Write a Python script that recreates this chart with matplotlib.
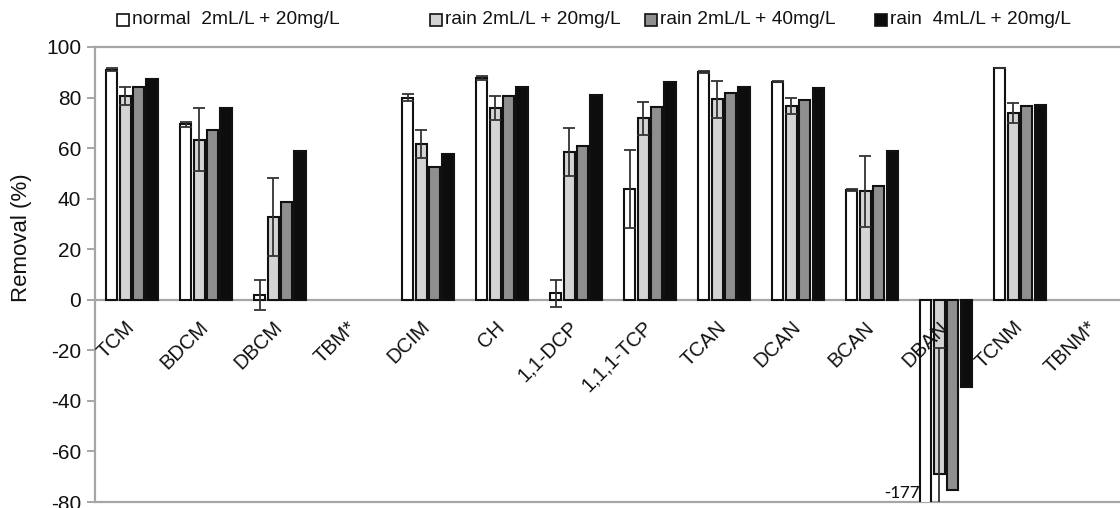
import numpy as np
import matplotlib
matplotlib.use("Agg")
import matplotlib.pyplot as plt
from matplotlib.patches import Rectangle

# data
categories = ['TCM', 'BDCM', 'DBCM', 'TBM*', 'DCIM', 'CH', '1,1-DCP',
              '1,1,1-TCP', 'TCAN', 'DCAN', 'BCAN', 'DBAN', 'TCNM', 'TBNM*']
series_names = ['normal  2mL/L + 20mg/L', 'rain 2mL/L + 20mg/L',
                'rain 2mL/L + 40mg/L', 'rain  4mL/L + 20mg/L']
nan = np.nan
normal = [91, 69.5, 2, nan, 80, 87.6, 2.5, 43.8, 90.2, 86.3, 43.5, -177, 91.6, nan]
normal_err = [0.5, 1, 6, nan, 1.5, 0.8, 5.5, 15.5, 0.5, 0.3, 0.5, 0, 0, nan]
rain20 = [80.7, 63.3, 32.8, nan, 61.5, 76, 58.4, 71.8, 79.3, 76.6, 42.9, -69, 74, nan]
rain20_err = [3.6, 12.4, 15.5, nan, 5.5, 4.8, 9.6, 6.6, 7.3, 3.2, 14, 50, 4, nan]
rain40 = [84, 67, 38.5, nan, 52.5, 80.5, 60.7, 76.2, 81.7, 79, 45.1, -75.3, 76.6, nan]
rain4ml = [87.5, 76, 59, nan, 57.5, 84, 81, 86.3, 84.3, 83.9, 58.7, -34.6, 77, nan]

values = [normal, rain20, rain40, rain4ml]
errors = [normal_err, rain20_err, None, None]
colors = ['#ffffff', '#d4d4d4', '#8f8f8f', '#0d0d0d']

plt.rcParams['font.family'] = ['Liberation Sans', 'DejaVu Sans']
plt.rcParams['axes.unicode_minus'] = False

fig = plt.figure(figsize=(11.2, 5.08), dpi=100)
ax = fig.add_axes([95 / 1120, 1 - 502 / 508, 1 - 95 / 1120, (502 - 47) / 508])

x = np.arange(len(categories))
offsets = [-0.275, -0.09, 0.09, 0.27]
width = 0.15
gray = '#a6a6a6'

for vals, errs, col, off in zip(values, errors, colors, offsets):
    v = np.array(vals, dtype=float)
    ax.bar(x + off, v, width=width, color=col, edgecolor='#111111',
           linewidth=1.5, zorder=3)
    if errs is not None:
        ax.errorbar(x + off, v, yerr=np.array(errs, dtype=float), fmt='none',
                    ecolor='#333333', elinewidth=1.3, capsize=4,
                    capthick=1.3, zorder=4)

ax.axhline(0, color=gray, lw=1.6, zorder=2)
ax.set_xlim(-0.5, 13.35)
ax.set_ylim(-80, 100)
ax.set_yticks(np.arange(-80, 101, 20))
ax.set_xticks([])

for side in ['left', 'top', 'bottom']:
    ax.spines[side].set_color(gray)
    ax.spines[side].set_linewidth(1.6)
ax.spines['right'].set_visible(False)
ax.tick_params(axis='y', colors=gray, length=6, width=1.4, labelsize=15,
               labelcolor='#111111', pad=4)

# rotated category labels just under the zero line
for i, name in enumerate(categories):
    ax.text(i + 0.08, -7, name, rotation=45, ha='right', va='top',
            fontsize=14.5, color='#111111')

# value for the clipped bar
ax.text(11 - 0.36, -76.5, '-177', ha='right', va='center', fontsize=14,
        family=['Carlito', 'Liberation Sans', 'DejaVu Sans'], color='#111111')

fig.text(22 / 1120, 1 - 238 / 508, 'Removal (%)', rotation=90, ha='center',
         va='center', fontsize=16, color='#111111')

# legend along the top
leg_x = [117, 430, 645, 875]
for px, name, col in zip(leg_x, series_names, colors):
    fig.patches.append(Rectangle((px / 1120, 1 - 26 / 508), 12 / 1120,
                                 12 / 508, transform=fig.transFigure,
                                 facecolor=col, edgecolor='#111111', lw=1.2))
    fig.text((px + 15) / 1120, 1 - 20 / 508, name, ha='left', va='center',
             fontsize=13.8, color='#111111')

fig.savefig('out.png', dpi=100)
